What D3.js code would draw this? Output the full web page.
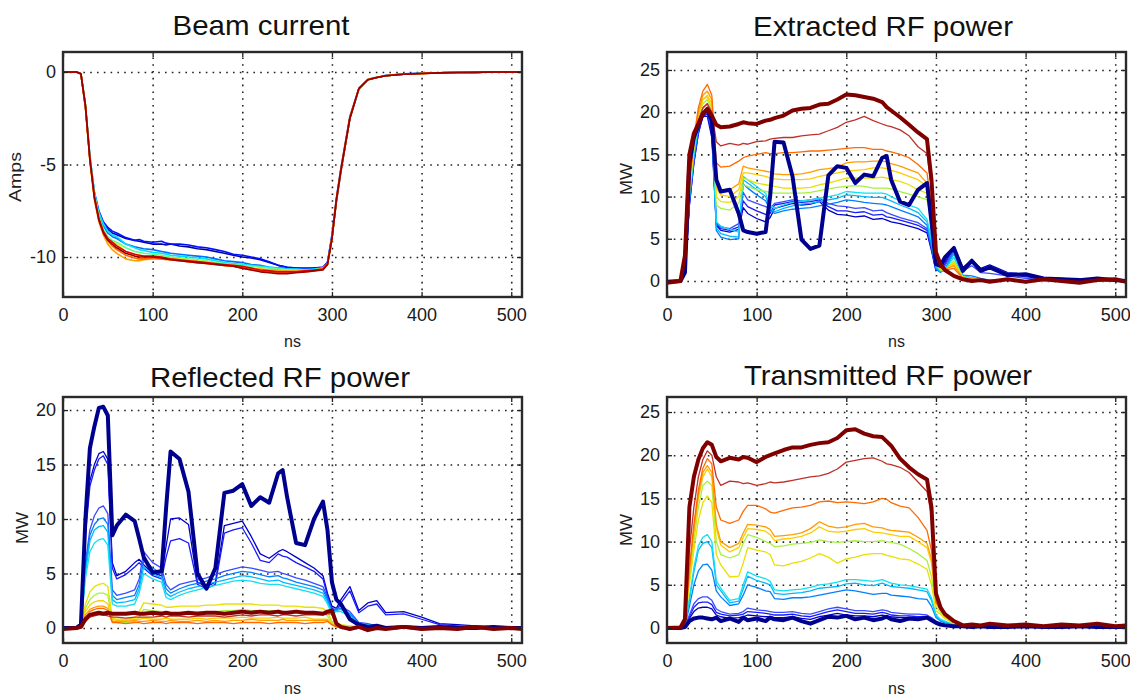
<!DOCTYPE html>
<html>
<head>
<meta charset="utf-8">
<script src="https://d3js.org/d3.v7.min.js"></script>
<style>
  body { margin: 0; background: #fff; }
</style>
</head>
<body>
<div id="chart"></div>
<script>
var W = 1130, H = 700;

// time axis shared by every trace (ns)
var times = [0,15,20,25,30,35,40,45,50,55,
  60,70,80,85,90,100,110,115,120,130,
  140,150,160,170,180,190,200,210,220,230,
  240,245,250,260,270,280,290,295,300,305,
  310,320,330,340,350,360,380,400,420,440,
  460,480,500,512];

var xTicks = [0, 100, 200, 300, 400, 500];
var beamTicks = [0, -5, -10];
var powerTicks = [0, 5, 10, 15, 20, 25];
var reflTicks = [0, 5, 10, 15, 20];

// Beam current (Amps), one row per shot
var beamCurrent = [
  [0,0,-0.1,-1.9,-4.7,-6.6,-7.6,-8.2,-8.5,-8.7,
   -8.8,-9.0,-9.1,-9.15,-9.2,-9.3,-9.3,-9.35,-9.3,-9.4,
   -9.45,-9.55,-9.6,-9.7,-9.8,-9.9,-10.0,-10.05,-10.15,-10.3,
   -10.45,-10.5,-10.55,-10.6,-10.6,-10.6,-10.55,-10.3,-9.0,-7.0,
   -5.4,-2.5,-0.9,-0.42,-0.3,-0.2,-0.12,-0.08,-0.05,-0.03,
   -0.02,0,0,0],
  [0,0,-0.1,-1.8,-4.6,-6.5,-7.5,-8.1,-8.4,-8.6,
   -8.7,-8.95,-9.1,-9.05,-9.15,-9.2,-9.15,-9.25,-9.3,-9.3,
   -9.35,-9.45,-9.5,-9.6,-9.7,-9.85,-9.9,-10.0,-10.1,-10.25,
   -10.45,-10.5,-10.55,-10.6,-10.65,-10.6,-10.55,-10.3,-8.8,-6.8,
   -5.2,-2.4,-0.9,-0.4,-0.28,-0.2,-0.1,-0.07,-0.04,-0.02,
   0,0,0,0],
  [0,0,-0.1,-1.8,-4.6,-6.6,-7.6,-8.3,-8.7,-8.9,
   -9.0,-9.3,-9.45,-9.5,-9.55,-9.6,-9.7,-9.75,-9.8,-9.85,
   -9.9,-9.95,-10.0,-10.1,-10.2,-10.25,-10.3,-10.4,-10.45,-10.55,
   -10.6,-10.6,-10.65,-10.65,-10.65,-10.65,-10.6,-10.35,-8.9,-6.9,
   -5.3,-2.5,-0.95,-0.42,-0.3,-0.18,-0.11,-0.07,-0.05,-0.02,
   -0.01,0,0,0],
  [0,0,-0.1,-1.7,-4.5,-6.5,-7.6,-8.2,-8.6,-8.8,
   -8.9,-9.3,-9.5,-9.6,-9.65,-9.75,-9.8,-9.85,-9.9,-9.95,
   -10.0,-10.05,-10.1,-10.2,-10.3,-10.35,-10.4,-10.45,-10.5,-10.55,
   -10.6,-10.65,-10.65,-10.65,-10.7,-10.65,-10.6,-10.4,-9.0,-6.9,
   -5.3,-2.5,-0.95,-0.4,-0.3,-0.2,-0.12,-0.07,-0.05,-0.03,
   -0.01,0,0,0],
  [0,0,-0.1,-1.8,-4.6,-6.6,-7.8,-8.5,-8.9,-9.1,
   -9.2,-9.5,-9.7,-9.75,-9.8,-9.85,-9.9,-9.95,-10.0,-10.05,
   -10.1,-10.15,-10.2,-10.3,-10.35,-10.4,-10.45,-10.5,-10.55,-10.6,
   -10.65,-10.65,-10.7,-10.7,-10.7,-10.7,-10.6,-10.4,-9.0,-6.9,
   -5.3,-2.5,-0.9,-0.42,-0.3,-0.2,-0.12,-0.08,-0.05,-0.03,
   -0.02,0,0,0],
  [0,0,-0.1,-1.8,-4.7,-6.7,-7.9,-8.6,-9.0,-9.2,
   -9.3,-9.7,-9.85,-9.9,-9.95,-10.0,-10.0,-10.05,-10.1,-10.1,
   -10.15,-10.2,-10.25,-10.35,-10.4,-10.45,-10.55,-10.6,-10.65,-10.7,
   -10.7,-10.7,-10.7,-10.75,-10.75,-10.7,-10.65,-10.4,-9.0,-6.9,
   -5.3,-2.5,-0.9,-0.4,-0.3,-0.2,-0.12,-0.08,-0.05,-0.03,
   -0.02,0,0,0],
  [0,0,-0.1,-1.9,-4.8,-6.9,-8.1,-8.8,-9.3,-9.6,
   -9.8,-10.1,-10.2,-10.2,-10.15,-10.1,-10.1,-10.15,-10.15,-10.2,
   -10.25,-10.3,-10.35,-10.4,-10.45,-10.5,-10.6,-10.65,-10.65,-10.7,
   -10.7,-10.75,-10.75,-10.75,-10.75,-10.7,-10.65,-10.4,-9.0,-6.9,
   -5.3,-2.5,-0.9,-0.42,-0.3,-0.2,-0.12,-0.08,-0.05,-0.03,
   -0.02,0,0,0],
  [0,0,-0.1,-1.9,-4.8,-6.8,-8.0,-8.7,-9.1,-9.4,
   -9.6,-9.9,-10.05,-10.1,-10.1,-10.05,-10.1,-10.1,-10.15,-10.2,
   -10.25,-10.3,-10.35,-10.4,-10.45,-10.5,-10.6,-10.7,-10.75,-10.8,
   -10.85,-10.85,-10.85,-10.8,-10.8,-10.75,-10.65,-10.4,-9.0,-6.9,
   -5.3,-2.5,-0.9,-0.42,-0.3,-0.2,-0.12,-0.08,-0.05,-0.03,
   -0.02,0,0,0],
  [0,0,-0.1,-1.8,-4.7,-6.7,-7.9,-8.6,-9.0,-9.2,
   -9.4,-9.7,-9.85,-9.9,-9.95,-9.95,-10.0,-10.05,-10.1,-10.15,
   -10.2,-10.25,-10.3,-10.35,-10.4,-10.45,-10.5,-10.6,-10.7,-10.75,
   -10.8,-10.8,-10.8,-10.8,-10.75,-10.7,-10.65,-10.4,-9.0,-6.9,
   -5.3,-2.5,-0.9,-0.42,-0.3,-0.2,-0.12,-0.08,-0.05,-0.03,
   -0.02,0,0,0],
  [0,0,-0.1,-1.8,-4.7,-6.8,-8.0,-8.7,-9.1,-9.3,
   -9.5,-9.8,-9.95,-10.0,-10.0,-10.0,-10.05,-10.1,-10.15,-10.2,
   -10.25,-10.3,-10.35,-10.4,-10.45,-10.5,-10.6,-10.7,-10.8,-10.85,
   -10.9,-10.9,-10.9,-10.85,-10.8,-10.75,-10.7,-10.4,-9.0,-6.9,
   -5.3,-2.5,-0.9,-0.42,-0.3,-0.2,-0.12,-0.08,-0.05,-0.03,
   -0.02,0,0,0]
];

// Extracted RF power (MW)
var extractedPower = [
  [-0.1,0,1,14,17,18.5,19.8,20.3,19,12,
   10.6,10.8,8,6,5.8,5.6,5.8,10,16.5,16.4,
   12.4,4.9,3.8,4.2,12.5,13.6,13.4,11.6,12.6,12.4,
   14.6,14.8,12,9.4,9,10.8,11.6,7,2,1.8,
   2.8,3.9,1.2,2.4,1.2,1.6,0.7,0.8,0.3,0.2,
   0.1,0.3,0.1,0],
  [0,0,1,9,14,17.5,19.5,19.5,17,6.6,
   6,5.8,6.1,8.7,8,7.4,7,7.5,8.6,8.9,
   9.2,9,9.1,9.4,8.4,7.9,7.8,7.6,7.7,7.3,
   7.4,7.2,7,6.8,6.5,6.2,5.7,3.6,1.2,1.6,
   2.2,4.1,1.6,2.5,1.5,1.9,1,0.8,0.4,0.3,
   0.2,0.1,0.2,0],
  [0,0,1,9,14,17.5,19.5,19.8,17.5,6.8,
   6.2,6,6.4,9.5,8.8,8.3,7.9,8,9,9.2,
   9.4,9.3,9.4,9.6,8.8,8.3,8.3,8.1,8.2,7.8,
   7.9,7.6,7.5,7.2,6.9,6.6,6,3.8,1.3,1.4,
   2,3.9,1.4,2.2,1.3,1.6,0.8,0.5,0.3,0.2,
   0.2,0.1,0.1,0],
  [0,0,1,9.5,14.5,18,19.8,20,18,7,
   6.4,6.2,6.8,10.5,9.6,9.2,8.8,8.6,9.2,9.4,
   9.6,9.5,9.6,9.8,9.2,8.9,8.8,8.6,8.7,8.3,
   8.4,8.1,7.9,7.5,7.2,6.9,6.2,4,1.4,1.2,
   1.8,3.6,1.2,1.8,1,0.9,0.6,0.3,0.2,0.1,
   0.2,0,0.1,0],
  [0,0,1,9.5,14.5,18,20,20.5,18.5,6,
   5.2,4.9,5,11.5,11,10.2,9.5,8.4,8,8.3,
   8.5,8.6,8.7,8.9,9.1,9.3,9.6,9.5,9.3,9.2,
   9.1,9,8.8,8.4,8,7.6,6.6,4.2,1.4,1,
   1.4,3.5,0.7,0.6,0.3,0.1,0.2,0,0,0,
   0,0,0,0],
  [0,0,1,10,15,18.5,20.5,21,19,6.3,
   5.6,5.3,5.2,12,11.6,10.8,10,8.6,8.2,8.6,
   8.9,9.1,9.2,9.4,9.6,9.8,10.2,10.1,10,9.9,
   9.9,9.7,9.5,9,8.6,8.1,7,4.5,1.6,1.1,
   1.3,3.2,0.6,0.4,0.2,0,0.1,0,0,0,
   0,0,0,0],
  [0,0,1,10,15,18.5,20.5,21,19,7,
   6.5,6.1,5.8,12.4,12,11.2,10.4,9,8.6,9,
   9.3,9.5,9.6,9.8,10,10.2,10.6,10.5,10.4,10.4,
   10.4,10.3,10,9.5,9,8.6,7.3,5,1.8,1.2,
   1.3,2.8,0.5,0.3,0.1,0,0.1,0,0,0,
   0,0,0,0],
  [0,0,1,10.5,15.5,19,21,21.5,20,9,
   8.6,8.4,9.2,11.4,11.2,10.8,10.6,10.5,10.4,10.4,
   10.4,10.4,10.5,10.7,10.9,11.1,11.2,11.3,11.2,11,
   11,11,10.9,10.6,10.3,10,9.6,7,2,1.3,
   1.2,2.4,0.5,0.3,0.1,0,0.1,0,0,0,
   0,0,0,0],
  [0,0,1,11,16,19.5,21.5,21.8,20.5,10,
   9.4,9.3,10,12.2,12,11.6,11.4,11.3,11.2,11,
   11,11,11.1,11.4,11.6,11.9,12.2,12.2,12.2,12.2,
   12.3,12.2,12,11.8,11.4,10.8,10.4,7.5,2.2,1.4,
   1.3,2.2,0.4,0.3,0.1,0,0.1,0,0,0,
   0,0,0,0],
  [0,0,1,11,16,19.5,21.5,22,21,11,
   10.2,10,10.8,12.8,12.8,12.6,12.4,12.2,12.1,12,
   12,12,12.1,12.4,12.6,12.8,13,13.1,13.2,13.4,
   13.4,13.3,13.1,12.8,12.4,12,11.2,8,2.3,1.5,
   1.4,2,0.4,0.3,0.1,0,0.1,0,0,0,
   0,0,0,0],
  [0,0,1,11.5,16.5,20,22,22.5,21.5,12,
   10.8,10.8,11.5,13.6,13.4,13.2,13,12.9,12.7,12.6,
   12.6,12.7,12.9,13.2,13.3,13.5,14,14.1,14.1,14.2,
   14.2,14.1,13.9,13.6,13.2,12.8,11.6,8.5,2.5,1.6,
   1.4,1.8,0.4,0.3,0.1,0,0.1,0,0.1,0,
   0,0,0,0],
  [0,0,1,12,17,20.5,22.5,23.3,22,14,
   13.5,13.6,14.2,14.6,14.8,15,15.2,15.1,15.1,15.2,
   15.2,15.3,15.4,15.4,15.5,15.6,15.7,15.8,15.8,15.6,
   15.6,15.4,15.3,15,14.6,13.8,12.8,9,2.5,1.6,
   1.3,1.5,0.3,0.2,0.1,0,0.1,0,0.1,0,
   0,0,0.1,0],
  [0,0,1,12,16.5,19,20.5,21,20,16.5,
   16,16.3,16.1,16.3,16.2,16.5,16.6,16.8,16.9,17,
   17,17.2,17.3,17.4,17.8,18.2,18.8,19.1,19.5,19,
   18.6,18.4,18.3,17.9,17.2,15.9,15.1,11,3,1.8,
   1.2,0.5,0.2,0.1,0,0.1,0.1,0,0.1,0,
   0,0.1,0,0],
  [-0.2,0,3,15,17.5,18.6,19.8,20.4,19.6,18.5,
   18.2,18.3,18.6,18.8,18.7,18.6,19.0,19.1,19.3,19.6,
   20.2,20.4,20.5,20.9,21.0,21.5,22.1,22.0,21.8,21.6,
   21.2,20.6,20.2,19.4,18.5,17.6,16.8,12.0,3.4,2.0,
   1.3,0.6,0.2,0.0,0.1,-0.1,0.2,-0.1,0.2,0.0,
   -0.2,0.1,0.2,-0.1]
];

// Reflected RF power (MW)
var reflectedPower = [
  [0,0,0.3,10,16.5,18.5,20.2,20.3,19.5,8.5,
   9.4,10.4,9.8,8.2,6.5,5.1,5.2,11,16.2,15.5,
   12.5,5,3.6,5.5,12.4,12.6,13.2,11.2,12,11.5,
   14.2,14.5,12,7.8,7.6,10,11.6,9,4.2,2.6,
   2.2,0.8,0.3,0.1,0.2,0,0.1,0,0.1,0,
   0,0.1,0,0],
  [0,0,0.2,9,13.5,15,16,16.2,15.5,6,
   4.8,5.2,6,6.3,5.8,5,4.8,7.5,10,10.1,
   9.5,4.2,3.8,4.2,9.4,9.6,9.8,8.4,6.8,6.4,
   7,7.2,7,6.5,6,5.5,4.8,3.2,2,1.8,
   2.6,3.8,1.6,2.3,2.5,1.4,1.5,1,0.4,0.3,
   0.2,0.1,0.1,0],
  [0,0,0.2,8.5,13,14.5,15.5,15.8,15,5.5,
   4.5,4.9,5.6,6,5.5,4.8,4.5,6.5,8,8.2,
   7.8,4,3.6,4,8.7,9,9.2,7.8,6.2,6,
   6.8,6.6,6.5,6,5.6,5.2,4.5,3,1.8,1.6,
   2.3,3.4,1.4,2,2.2,1.2,1.3,0.8,0.3,0.2,
   0.1,0.1,0,0],
  [0,0,0.2,6,9,10.3,11,11.2,10.5,3.5,
   3,3.2,3.5,4.5,7,6,5.5,4,3.5,4,
   4.2,4.4,4.6,4.9,5.2,5.4,5.6,5.5,5.3,5.1,
   5.2,5,4.9,4.6,4.4,4.1,3.8,2.8,1.6,1.8,
   2,1.5,0.5,0.4,0.2,0.1,0.1,0,0,0,
   0,0,0,0],
  [0,0,0.2,5.5,8.5,9.5,10,10.1,9.5,3,
   2.6,2.8,3,4,6.2,5.5,5,3.6,3.2,3.6,
   3.9,4.1,4.3,4.5,4.8,5,5.2,5.1,4.9,4.7,
   4.8,4.6,4.5,4.2,4,3.8,3.5,2.6,1.5,1.7,
   1.8,1.3,0.4,0.3,0.2,0.1,0.1,0,0,0,
   0,0,0,0],
  [0,0,0.2,5,8,9,9.3,9.4,8.8,2.6,
   2.3,2.4,2.6,3.6,5.6,5,4.6,3.2,2.9,3.3,
   3.6,3.8,4,4.2,4.4,4.6,4.8,4.7,4.5,4.3,
   4.4,4.2,4.1,3.9,3.7,3.5,3.2,2.4,1.4,1.6,
   1.7,1.2,0.4,0.3,0.2,0.1,0,0,0,0,
   0,0,0,0],
  [0,0,0.2,4.5,7,7.8,8.1,8.2,7.6,2.2,
   2,2,2.2,3.2,5,4.5,4.2,2.8,2.6,3,
   3.3,3.5,3.7,3.9,4.1,4.3,4.4,4.3,4.1,4,
   4,3.9,3.8,3.6,3.4,3.2,2.9,2.2,1.3,1.5,
   1.5,1.1,0.3,0.2,0.1,0,0,0,0,0,
   0,0,0,0],
  [0,0,0.1,1.8,2.6,3,3.2,3.2,3,0.6,
   0.5,0.5,0.6,1,1.7,1.6,1.5,1.3,1.3,1.4,
   1.4,1.5,1.5,1.5,1.6,1.6,1.7,1.6,1.6,1.6,
   1.6,1.5,1.5,1.5,1.4,1.4,1.4,1.1,0.5,0.3,
   0.2,0.1,0,0,0,0,0,0,0,0,
   0,0,0,0],
  [0,0,0.1,2.2,3.3,3.8,4,4.1,3.8,0.9,
   0.8,0.8,0.9,1.5,2.3,2.2,2.1,1.9,1.9,2,
   2,2,2.1,2.1,2.2,2.2,2.2,2.2,2.1,2.1,
   2.1,2,2,2,1.9,1.9,1.8,1.5,0.6,0.4,
   0.3,0.2,0.1,0,0,0,0,0,0,0,
   0,0,0,0],
  [0,0,0.1,1.5,2.1,2.4,2.5,2.5,2.2,0.8,
   0.7,0.7,0.8,0.8,0.9,0.8,0.8,0.9,0.8,0.8,
   0.8,0.9,0.8,0.9,0.9,0.9,1,0.9,0.9,0.9,
   1,0.9,0.9,0.9,1,0.8,0.8,0.8,0.4,0.2,
   0.1,0,0,0,0,0,0,0,0,0,
   0,0,0,0],
  [0,0,0.1,1.2,1.7,1.9,2,2,1.8,0.6,
   0.6,0.6,0.7,0.6,0.6,0.7,0.6,0.6,0.7,0.6,
   0.6,0.7,0.6,0.7,0.6,0.7,0.7,0.8,0.7,0.7,
   0.7,0.8,0.7,0.7,0.7,0.7,0.7,0.7,0.3,0.1,
   0,0,0,0,0,0,0,0,0,0,
   0,0,0,0],
  [0,0,0.1,1,1.5,1.7,1.8,1.8,1.6,0.5,
   0.5,0.4,0.5,0.5,0.4,0.5,0.5,0.4,0.5,0.5,
   0.5,0.4,0.5,0.5,0.5,0.4,0.5,0.5,0.5,0.4,
   0.5,0.5,0.5,0.5,0.4,0.5,0.5,0.6,0.3,0.1,
   0,0,0,0,0,0,0,0,0,0,
   0,0,0,0],
  [0,0,0.1,0.6,1,1.1,1.2,1.2,1.1,1,
   1,0.9,1,1,1,1,1.1,1,1.1,1.1,
   1,1.1,1.1,1.1,1,1.1,1.2,1.1,1.2,1.2,
   1.1,1.2,1.2,1.1,1.2,1.2,1.2,1.3,1.3,0.4,
   0.1,0,0,0,0,0,0,0,0,0,
   0,0,0,0],
  [-0.1,0,0.1,0.8,1.2,1.3,1.4,1.3,1.4,1.3,
   1.3,1.3,1.4,1.3,1.3,1.4,1.3,1.4,1.3,1.3,
   1.4,1.3,1.4,1.4,1.3,1.4,1.5,1.4,1.5,1.4,
   1.5,1.4,1.4,1.5,1.4,1.4,1.3,1.5,1.6,0.4,
   0.1,-0.1,0.1,-0.2,0,-0.1,0.1,-0.1,0,-0.1,
   0.1,-0.1,0,-0.1]
];

// Transmitted RF power (MW)
var transmittedPower = [
  [0,0,0.1,0.8,1.1,1.2,1.2,1.1,1.0,1.2,
   0.8,1.1,0.7,1.2,0.9,1.1,0.8,1.2,1.0,0.9,
   1.2,0.8,0.5,0.9,1.3,1.2,1.4,1.0,1.2,0.9,
   1.1,1.3,1.0,0.8,1.1,1.0,1.2,0.9,0.6,0.4,
   0.3,0.2,0.2,0.1,0.2,0.1,0.1,0.2,0.1,0.1,
   0.2,0.1,0.1,0.1],
  [0,0,0.2,1.1,1.9,2.3,2.4,2.4,2.2,1.5,
   1.3,1.1,1.2,1.3,1.5,1.4,1.3,1.3,1.2,1.2,
   1.3,1.1,1,1.3,1.5,1.7,1.5,1.4,1.4,1.3,
   1.5,1.4,1.3,1.2,1.2,1.1,1.1,0.9,0.6,0.4,
   0.3,0.2,0.1,0.1,0.1,0.1,0.1,0.1,0.1,0,
   0.1,0.1,0,0.1],
  [0,0,0.2,1.3,2.4,2.9,3,3,2.7,1.8,
   1.6,1.4,1.5,1.6,1.9,1.8,1.7,1.6,1.5,1.5,
   1.6,1.4,1.3,1.6,1.9,2.1,1.9,1.7,1.7,1.6,
   1.8,1.7,1.5,1.4,1.4,1.3,1.3,1,0.7,0.5,
   0.4,0.3,0.2,0.1,0.1,0.1,0.1,0.1,0.1,0.1,
   0.1,0.1,0.1,0.1],
  [0,0,0.2,1.5,2.8,3.4,3.6,3.6,3.2,2.2,
   1.9,1.6,1.7,1.9,2.3,2.1,2,1.9,1.8,1.8,
   1.9,1.7,1.6,1.9,2.2,2.4,2.2,2,2,1.9,
   2.1,2,1.8,1.7,1.6,1.6,1.5,1.2,0.8,0.6,
   0.4,0.3,0.2,0.1,0.1,0.1,0.1,0.1,0.1,0.1,
   0.1,0.1,0.1,0.1],
  [0,0,0.2,2.5,5,6.6,7.3,7.4,6.7,4.3,
   3.6,2.6,2.8,3.8,5,4.7,4.3,4.2,3.4,3.3,
   3.5,3.5,3.6,3.8,4,4.2,4.4,4.3,4.1,3.9,
   4,4,3.8,3.7,3.6,3.4,3.3,2.5,1.2,0.8,
   0.6,0.3,0.2,0.1,0.1,0.1,0.1,0.1,0.1,0.1,
   0.1,0.1,0.1,0.1],
  [0,0,0.3,3.2,6.5,9,9.8,10,9.3,5,
   4.3,2.9,3.1,4.5,6,5.5,5.2,5,4,3.9,
   4,4.1,4.3,4.6,4.7,4.8,5.1,5.2,5,4.9,
   5.2,5,4.8,4.7,4.6,4.4,4.2,3.2,1.4,0.9,
   0.7,0.4,0.2,0.1,0.1,0.2,0.1,0.1,0.1,0.1,
   0.1,0.1,0.1,0.1],
  [0,0,0.3,3.5,7,9.5,10.5,10.8,10,5.5,
   4.6,3.2,3.4,5,6.5,6,5.7,5.4,4.4,4.3,
   4.4,4.5,4.7,5,5.1,5.3,5.6,5.6,5.5,5.4,
   5.6,5.4,5.2,5,4.9,4.7,4.5,3.5,1.5,1,
   0.8,0.4,0.2,0.2,0.1,0.2,0.1,0.1,0.1,0.1,
   0.1,0.1,0.1,0.1],
  [0,0,0.3,5.5,10,14,16.5,17,16.5,10,
   8.5,8.1,8.5,9.8,10.8,10.5,10,9.8,9.4,9.5,
   9.7,9.8,9.9,10.2,10,9.9,10,10.1,10,10,
   10.1,10,9.9,9.7,9.2,8.6,7.8,6,2.5,1.8,
   1.2,0.6,0.3,0.2,0.2,0.2,0.2,0.2,0.1,0.2,
   0.1,0.2,0.1,0.1],
  [0,0,0.3,5,9,12.5,14.5,15.3,14.5,8.5,
   7.3,5.9,6,7.5,9.3,9,8.8,8.5,7.3,7.2,
   7.5,7.7,8.1,8.6,8.2,7.5,8,8.2,8.5,8.6,
   8.6,8.4,8.3,8,7.9,7.4,6.8,5,2,1.6,
   1.1,0.5,0.2,0.2,0.2,0.2,0.1,0.2,0.1,0.2,
   0.1,0.2,0.1,0.1],
  [0,0,0.4,6.2,11,15,17.5,18.4,17.5,11.5,
   9.6,8.8,9.3,10.5,11.5,11.4,11.2,10.8,10.1,10.3,
   10.4,10.6,11,11.7,11.2,11.1,11.2,11.4,11.5,11.1,
   11,10.9,10.8,10.6,10.6,10,9.3,7.6,2.9,2,
   1.4,0.7,0.3,0.2,0.2,0.2,0.2,0.2,0.2,0.2,
   0.2,0.2,0.2,0.2],
  [0,0,0.4,6.5,11.5,15.5,18,18.8,18,12,
   10,9.3,9.8,11,12,11.9,11.7,11.4,10.6,10.7,
   10.8,11,11.5,12.3,11.8,11.6,11.7,12,12.1,11.7,
   11.6,11.4,11.3,11.2,11.1,10.5,9.8,8,3,2.1,
   1.4,0.7,0.3,0.2,0.2,0.3,0.2,0.2,0.2,0.2,
   0.2,0.2,0.2,0.2],
  [0,0,0.4,7,12,16,18.5,19.6,19,14,
   12.5,12.1,12.5,13.5,14.2,14.2,13.8,13.4,13.3,13.6,
   13.9,14,14.2,14.6,14.7,14.5,14.6,14.5,14.4,14.6,
   15,14.9,14.5,14.1,13.9,12.8,11.3,9,3,2.2,
   1.5,0.7,0.3,0.3,0.2,0.3,0.2,0.3,0.2,0.2,
   0.2,0.3,0.2,0.2],
  [0,0,0.5,9,14,17.5,19.5,20.5,20,17.5,
   16.5,17,16.9,16.7,16.8,16.5,16.7,16.9,16.8,16.9,
   17.1,17.3,17.5,17.6,17.9,18.4,19.2,19.4,19.6,19.7,
   19.3,19,18.9,18.6,18,16.9,15.8,13,3.8,2.3,
   1.5,0.8,0.3,0.3,0.3,0.4,0.2,0.3,0.2,0.3,
   0.2,0.4,0.2,0.2],
  [0,0.05,1,14,17.5,19.5,20.8,21.5,21.2,19.8,
   19.3,19.7,19.5,19.8,19.7,19.2,19.8,20,20.2,20.6,
   20.9,20.9,21.2,21.4,21.5,22,22.9,23,22.5,22.2,
   22.1,21.6,21.1,19.6,18.6,17.8,17.2,14,4,2.4,
   1.6,0.8,0.3,0.4,0.3,0.5,0.3,0.4,0.2,0.4,
   0.3,0.5,0.2,0.3]
];

// line colours (jet-like), first and last power traces are drawn thick
var beamColors = ["#0000a8","#0010ff","#0070ff","#00e0ff","#60ff90","#f0e800","#ffa000","#ff6000","#e00000","#980000"];
var powerColors = ["#00008f","#0000cc","#1a1aff","#3a4cff","#0080ff","#00b8ff","#10e0f0","#a8f040","#e8e000","#ffcc00","#ff9c00","#ff6a00","#c0302a","#800000"];

var svg = d3.select("#chart").append("svg")
  .attr("width", W)
  .attr("height", H)
  .style("background", "#FFFFFF");

var tickFont = "'Liberation Sans Narrow', 'Liberation Sans', Arial, sans-serif";
var labelFont = "'Liberation Sans', Arial, sans-serif";

var panels = [
  { key: "beam", data: beamCurrent, colors: beamColors, thick: [], lw: 1.6,
    x0: 63, x1: 522, y0: 52, y1: 297, yDomain: [-12.16, 1.08], yTicks: beamTicks,
    title: "Beam current", tx: 261, ty: 35, tlen: 177,
    yLabel: "Amps", lx: 15, ly: 177, llen: 50, nsY: 347 },
  { key: "extr", data: extractedPower, colors: powerColors, thick: [0, 13], lw: 1.3,
    x0: 667, x1: 1126, y0: 52, y1: 297, yDomain: [-1.9, 27.13], yTicks: powerTicks,
    title: "Extracted RF power", tx: 883, ty: 36, tlen: 260,
    yLabel: "MW", lx: 626, ly: 179, llen: 32, nsY: 347 },
  { key: "refl", data: reflectedPower, colors: powerColors, thick: [0, 13], lw: 1.3,
    x0: 63, x1: 522, y0: 397, y1: 643, yDomain: [-1.38, 21.2], yTicks: reflTicks,
    title: "Reflected RF power", tx: 280, ty: 387, tlen: 260,
    yLabel: "MW", lx: 22, ly: 528, llen: 32, nsY: 694 },
  { key: "trans", data: transmittedPower, colors: powerColors, thick: [0, 13], lw: 1.3,
    x0: 667, x1: 1126, y0: 397, y1: 643, yDomain: [-1.74, 26.74], yTicks: powerTicks,
    title: "Transmitted RF power", tx: 888, ty: 385, tlen: 288,
    yLabel: "MW", lx: 626, ly: 530, llen: 32, nsY: 694 }
];

function styleTicks(sel) {
  sel.select(".domain").remove();
  sel.selectAll(".tick line").attr("stroke", "#222").attr("stroke-width", 1.3);
}

function drawPanel(p) {
  var x = d3.scaleLinear().domain([0, 512]).range([p.x0, p.x1]);
  var y = d3.scaleLinear().domain(p.yDomain).range([p.y1, p.y0]);
  var g = svg.append("g").attr("class", "panel-" + p.key);

  svg.append("clipPath").attr("id", "clip-" + p.key)
    .append("rect")
    .attr("x", p.x0).attr("y", p.y0)
    .attr("width", p.x1 - p.x0).attr("height", p.y1 - p.y0);

  // dotted grid
  var gx = g.append("g").attr("transform", "translate(0," + p.y1 + ")")
    .call(d3.axisBottom(x).tickValues(xTicks.slice(1)).tickSize(-(p.y1 - p.y0)).tickFormat(""));
  gx.select(".domain").remove();
  gx.selectAll(".tick line").attr("stroke", "#222").attr("stroke-width", 1.6).attr("stroke-dasharray", "1.6,5.2");

  var gy = g.append("g").attr("transform", "translate(" + p.x0 + ",0)")
    .call(d3.axisLeft(y).tickValues(p.yTicks).tickSize(-(p.x1 - p.x0)).tickFormat(""));
  gy.select(".domain").remove();
  gy.selectAll(".tick line").attr("stroke", "#222").attr("stroke-width", 1.6).attr("stroke-dasharray", "1.6,5.2");

  // traces
  var line = d3.line()
    .defined(function(d, i) { return i < times.length; })
    .x(function(d, i) { return x(times[i]); })
    .y(function(d) { return y(d); });

  var order = [];
  p.data.forEach(function(s, i) { if (p.thick.indexOf(i) < 0) order.push(i); });
  p.thick.forEach(function(i) { order.push(i); });

  g.append("g").attr("clip-path", "url(#clip-" + p.key + ")")
    .selectAll("path")
    .data(order)
    .enter()
    .append("path")
    .attr("d", function(i) { return line(p.data[i]); })
    .attr("fill", "none")
    .attr("stroke", function(i) { return p.colors[i]; })
    .attr("stroke-width", function(i) { return p.thick.indexOf(i) >= 0 ? 4 : p.lw; })
    .attr("stroke-linejoin", "round");

  var fmt = function(d) { return String(d); };

  // axes with inward ticks
  var ax = g.append("g").attr("transform", "translate(0," + p.y1 + ")")
    .call(d3.axisBottom(x).tickValues(xTicks).tickSize(-5).tickPadding(11).tickFormat(fmt));
  styleTicks(ax);
  ax.selectAll("text").attr("font-family", tickFont).attr("font-size", 18).attr("fill", "#1a1a1a");

  var axTop = g.append("g").attr("transform", "translate(0," + p.y0 + ")")
    .call(d3.axisTop(x).tickValues(xTicks).tickSize(-5).tickFormat(""));
  styleTicks(axTop);

  var ay = g.append("g").attr("transform", "translate(" + p.x0 + ",0)")
    .call(d3.axisLeft(y).tickValues(p.yTicks).tickSize(-5).tickPadding(7).tickFormat(fmt));
  styleTicks(ay);
  ay.selectAll("text").attr("font-family", tickFont).attr("font-size", 18).attr("fill", "#1a1a1a");

  var ayR = g.append("g").attr("transform", "translate(" + p.x1 + ",0)")
    .call(d3.axisRight(y).tickValues(p.yTicks).tickSize(-5).tickFormat(""));
  styleTicks(ayR);

  // frame
  g.append("rect")
    .attr("x", p.x0).attr("y", p.y0)
    .attr("width", p.x1 - p.x0).attr("height", p.y1 - p.y0)
    .attr("fill", "none").attr("stroke", "#2a2a2a").attr("stroke-width", 2.4);

  // title
  g.append("text")
    .attr("x", p.tx).attr("y", p.ty)
    .attr("text-anchor", "middle")
    .attr("font-family", labelFont).attr("font-size", 28)
    .attr("fill", "#111")
    .attr("textLength", p.tlen).attr("lengthAdjust", "spacingAndGlyphs")
    .text(p.title);

  // axis labels
  g.append("text")
    .attr("x", (p.x0 + p.x1) / 2).attr("y", p.nsY)
    .attr("text-anchor", "middle")
    .attr("font-family", labelFont).attr("font-size", 16)
    .attr("fill", "#222")
    .text("ns");

  g.append("text")
    .attr("transform", "translate(" + p.lx + "," + p.ly + ") rotate(-90)")
    .attr("text-anchor", "middle")
    .attr("dominant-baseline", "central")
    .attr("font-family", labelFont).attr("font-size", 16)
    .attr("fill", "#222")
    .attr("textLength", p.llen).attr("lengthAdjust", "spacingAndGlyphs")
    .text(p.yLabel);
}

panels.forEach(drawPanel);
</script>
</body>
</html>
